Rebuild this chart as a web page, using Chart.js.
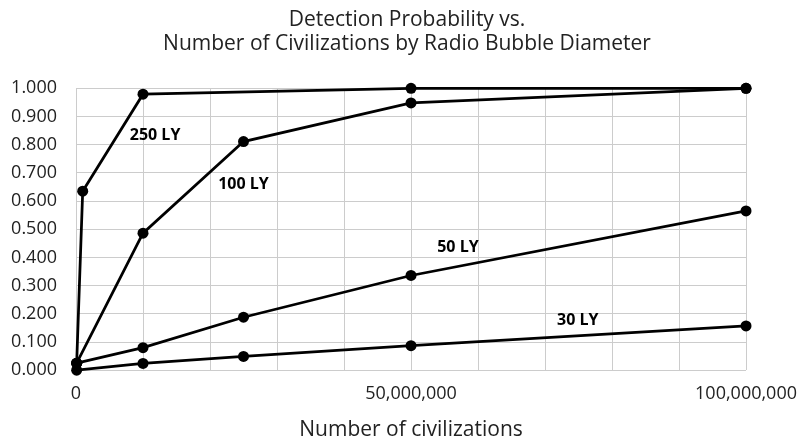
<!DOCTYPE html>
<html>
<head>
<meta charset="utf-8">
<script src="https://cdn.jsdelivr.net/npm/chart.js@4/dist/chart.umd.min.js"></script>
<style>
  html, body { margin: 0; padding: 0; background: #fff; }
  #wrap { width: 804px; height: 439px; }
</style>
</head>
<body>
<div id="wrap"><canvas id="chart" width="804" height="439"></canvas></div>
<script>
// Nombre de civilisations (axe x)
const civilizations = [100000, 1000000, 10000000, 25000000, 50000000, 100000000];
// Probabilités (null = pas de point)
const ly250 = [0.025, 0.635, 0.979, null, 1.000, 1.000];
const ly100 = [0.025, null, 0.486, 0.811, 0.948, 1.000];
const ly50  = [0.025, null, 0.080, 0.188, 0.336, 0.565];
const ly30  = [0.000, null, 0.024, 0.049, 0.087, 0.157];
const seriesNames = ['250 LY', '100 LY', '50 LY', '30 LY'];
const xTickLabels = [0, 50000000, 100000000];

const FONT = '"Open Sans", Lato, sans-serif';

function toPoints(values) {
    return civilizations.map((x, i) => ({ x: x, y: values[i] }));
}

// Étiquettes des séries, placées en coordonnées de données
const labelAnchors = [
    { x: 11800000, y: 0.832 },
    { x: 25000000, y: 0.658 },
    { x: 57000000, y: 0.437 },
    { x: 74900000, y: 0.176 }
];

const seriesLabels = {
    id: 'seriesLabels',
    afterDatasetsDraw(chart) {
        const { ctx, scales } = chart;
        ctx.save();
        ctx.font = 'bold 16px ' + FONT;
        ctx.fillStyle = '#000';
        ctx.textAlign = 'center';
        ctx.textBaseline = 'middle';
        seriesNames.forEach((name, i) => {
            const a = labelAnchors[i];
            ctx.fillText(name, scales.x.getPixelForValue(a.x), scales.y.getPixelForValue(a.y));
        });
        ctx.restore();
    }
};

const allSeries = [ly250, ly100, ly50, ly30];

new Chart(document.getElementById('chart').getContext('2d'), {
    type: 'line',
    data: {
        datasets: allSeries.map((vals, i) => ({
            label: seriesNames[i],
            data: toPoints(vals),
            borderColor: '#000',
            backgroundColor: '#000',
            borderWidth: 2.75,
            pointRadius: 5.5,
            pointBackgroundColor: '#000',
            pointBorderWidth: 0,
            spanGaps: true,
            tension: 0,
            fill: false,
            clip: false
        }))
    },
    options: {
        responsive: false,
        animation: false,
        layout: { padding: { left: 10, right: 0, top: 4, bottom: 0 } },
        plugins: {
            legend: { display: false },
            tooltip: { enabled: false },
            title: {
                display: true,
                text: ['Detection Probability vs.', 'Number of Civilizations by Radio Bubble Diameter'],
                color: '#222',
                font: { family: FONT, size: 21, weight: 'normal', lineHeight: 1.15 },
                padding: { top: 4, bottom: 32 }
            }
        },
        scales: {
            x: {
                type: 'linear',
                min: 0,
                max: 100000000,
                afterFit: (scale) => {
                    // laisser l'étiquette 100,000,000 déborder un peu à droite
                    scale.getPadding = function () {
                        return {
                            left: this.paddingLeft || 0,
                            top: this.paddingTop || 0,
                            right: Math.max(0, (this.paddingRight || 0) - 6),
                            bottom: this.paddingBottom || 0
                        };
                    };
                },
                ticks: {
                    stepSize: 10000000,
                    autoSkip: false,
                    maxRotation: 0,
                    color: '#222',
                    padding: 13,
                    font: { family: FONT, size: 18, lineHeight: 1.2 },
                    callback: (v) => xTickLabels.includes(v) ? v.toLocaleString('en-US') : ''
                },
                grid: { color: '#cccccc', lineWidth: 1, drawTicks: false },
                border: { display: false },
                title: {
                    display: true,
                    text: 'Number of civilizations',
                    color: '#222',
                    font: { family: FONT, size: 21, lineHeight: 1.2 },
                    padding: { top: 0, bottom: -4 }
                }
            },
            y: {
                min: 0,
                max: 1,
                afterFit: (scale) => { scale.width = 66; },
                ticks: {
                    stepSize: 0.1,
                    color: '#222',
                    padding: 19,
                    font: { family: FONT, size: 18 },
                    callback: (v) => v.toFixed(3)
                },
                grid: { color: '#cccccc', lineWidth: 1, drawTicks: false },
                border: { display: false }
            }
        }
    },
    plugins: [seriesLabels]
});
</script>
</body>
</html>
